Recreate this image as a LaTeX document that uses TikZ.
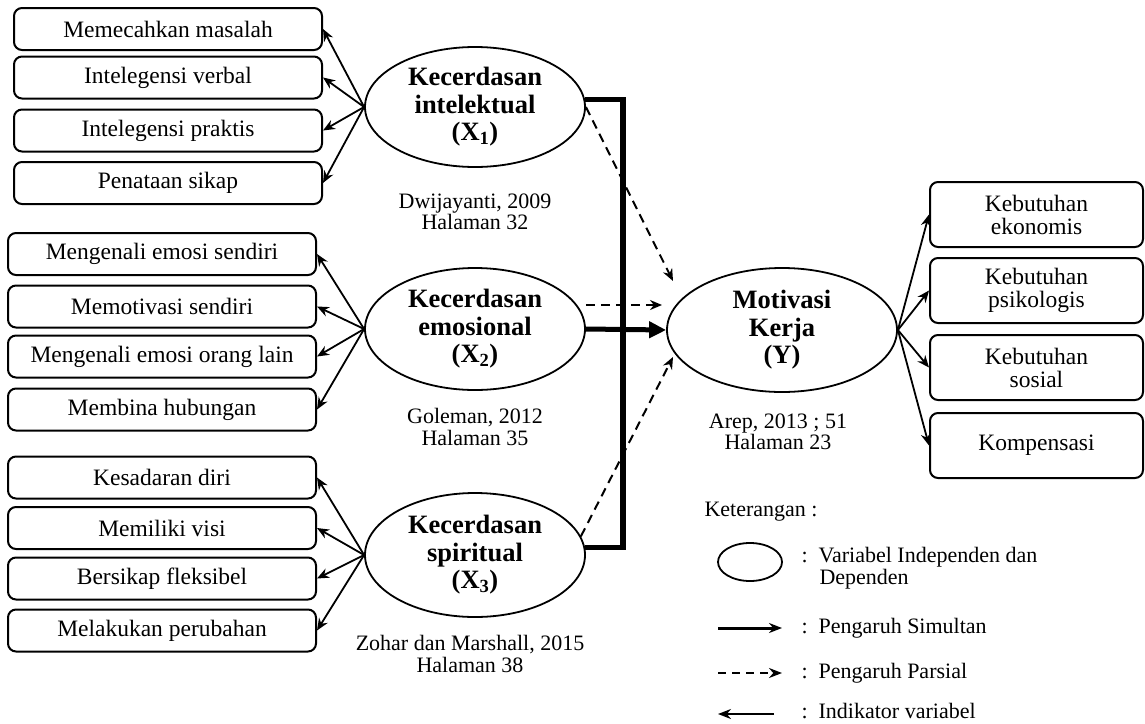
\documentclass[tikz,border=0pt]{standalone}
\usepackage{fontspec}
\setmainfont{Liberation Serif}
\usetikzlibrary{shapes.geometric}
\usetikzlibrary{arrows.meta}
\newcommand{\boxwidth}{308pt}
\newcommand{\boxheight}{42pt}
\newcommand{\normtxt}{\fontsize{23.5}{23}\selectfont}
\newcommand{\reftxt}{\fontsize{22}{21.5}\selectfont}

\begin{document}
\begin{tikzpicture}[x=1pt,y=-1pt]
            \useasboundingbox (0,0) rectangle (1145,723);

            % indicator boxes
            \begin{scope}[every node/.style={draw,line width=2pt,rounded corners=8pt,minimum width=\boxwidth,minimum height=\boxheight,inner sep=0pt,font=\normtxt}]
                \node (a1) at (168,29) {Memecahkan masalah};
                \node (a2) at (168,77.5) {Intelegensi verbal};
                \node (a3) at (168,130.5) {Intelegensi praktis};
                \node (a4) at (168,183) {Penataan sikap};
                \node (b1) at (162,254) {Mengenali emosi sendiri};
                \node (b2) at (162,306.5) {Memotivasi sendiri};
                \node (b3) at (162,356.5) {Mengenali emosi orang lain};
                \node (b4) at (162,409.5) {Membina hubungan};
                \node (c1) at (162,477.5) {Kesadaran diri};
                \node (c2) at (162,528) {Memiliki visi};
                \node (c3) at (162,578.5) {Bersikap fleksibel};
                \node (c4) at (162,630.5) {Melakukan perubahan};
            \end{scope}

            \begin{scope}[every node/.style={draw,line width=2pt,rounded corners=8pt,minimum width=213pt,minimum height=65pt,inner sep=0pt,align=center,font=\normtxt}]
                \node (d1) at (1036.5,214.5) {Kebutuhan\\ekonomis};
                \node (d2) at (1036.5,290.5) {Kebutuhan\\psikologis};
                \node (d3) at (1036.5,367.5) {Kebutuhan\\sosial};
                \node (d4) at (1036.5,445.5) {Kompensasi};
            \end{scope}

            % variables
            \begin{scope}[every node/.style={ellipse,draw,line width=1.8pt,minimum width=220pt,inner sep=0pt,align=center,font=\fontsize{26.5}{27.5}\selectfont\bfseries}]
                \node[minimum height=120pt] (x1) at (475,107) {Kecerdasan\\intelektual\\(X\textsubscript{1})};
                \node[minimum height=122pt] (x2) at (475,329) {Kecerdasan\\emosional\\(X\textsubscript{2})};
                \node[minimum height=124pt] (x3) at (475,555) {Kecerdasan\\spiritual\\(X\textsubscript{3})};
                \node[minimum width=230pt,minimum height=124pt] (y) at (782,330) {Motivasi\\Kerja\\(Y)};
            \end{scope}

            % sources
            \begin{scope}[every node/.style={align=center,font=\reftxt}]
                \node (r1) at (475,212) {Dwijayanti, 2009\\Halaman 32};
                \node (r2) at (475,427) {Goleman, 2012\\Halaman 35};
                \node (r3) at (470,654) {Zohar dan Marshall, 2015\\Halaman 38};
                \node (r4) at (778,432) {Arep, 2013 ; 51\\Halaman 23};
            \end{scope}

            \begin{scope}[>={Stealth[length=12pt,width=10pt]},
                every edge/.style={draw=black,line width=1.8pt}]
                \path [->] (x1.west) edge (a1.east);
                \path [->] (x1.west) edge (a2.east);
                \path [->] (x1.west) edge (a3.east);
                \path [->] (x1.west) edge (a4.east);
                \path [->] (x2.west) edge (b1.east);
                \path [->] (x2.west) edge (b2.east);
                \path [->] (x2.west) edge (b3.east);
                \path [->] (x2.west) edge (b4.east);
                \path [->] (x3.west) edge (c1.east);
                \path [->] (x3.west) edge (c2.east);
                \path [->] (x3.west) edge (c3.east);
                \path [->] (x3.west) edge (c4.east);
                \path [->] (y.east) edge (d1.west);
                \path [->] (y.east) edge (d2.west);
                \path [->] (y.east) edge (d3.west);
                \path [->] (y.east) edge (d4.west);
            \end{scope}

            % simultaneous
            \coordinate (jn) at (623,330);
            \draw[line width=5.5pt] (x1.4) -| (jn) |- (x3.4);
            \draw[line width=5pt,-{Triangle[length=17pt,width=16pt]}] (x2.east) -- (y.west);

            % partial
            \coordinate (q1) at (673,281);
            \coordinate (q2) at (662,305);
            \coordinate (q3) at (673,357);
            \begin{scope}[>={Stealth[length=12pt,width=10pt]},
                every edge/.style={draw=black,line width=2pt,dash pattern=on 9pt off 6pt}]
                \path [->] (x1.east) edge (q1);
                \path [->] ([yshift=24pt]x2.east) edge (q2);
                \path [->] (x3.10) edge (q3);
            \end{scope}

            % legend
            \node[anchor=west,font=\reftxt] (ket) at (701,512) {Keterangan :};
            \node[ellipse,draw,line width=1.8pt,minimum width=64pt,minimum height=38pt] (le) at (750,562) {};
            \begin{scope}[every node/.style={anchor=west,font=\reftxt}]
                \node (lt1) at (798,557) {:\enspace Variabel Independen dan};
                \node (lt2) at (816,579) {Dependen};
                \node (lt3) at (798,628) {:\enspace Pengaruh Simultan};
                \node (lt4) at (798,673) {:\enspace Pengaruh Parsial};
                \node (lt5) at (798,711) {:\enspace Indikator variabel};
            \end{scope}
            \coordinate (ls1) at (718,628);
            \coordinate (ls2) at (782,628);
            \coordinate (lp1) at (718,673);
            \coordinate (lp2) at (782,673);
            \coordinate (li1) at (774,714);
            \coordinate (li2) at (718,714);
            \draw[line width=3pt,-{Stealth[length=13pt,width=10pt]}] (ls1) -- (ls2);
            \draw[line width=2pt,dash pattern=on 8pt off 6pt,-{Stealth[length=13pt,width=10pt]}] (lp1) -- (lp2);
            \draw[line width=2pt,-{Stealth[length=13pt,width=10pt]}] (li1) -- (li2);
\end{tikzpicture}
\end{document}
